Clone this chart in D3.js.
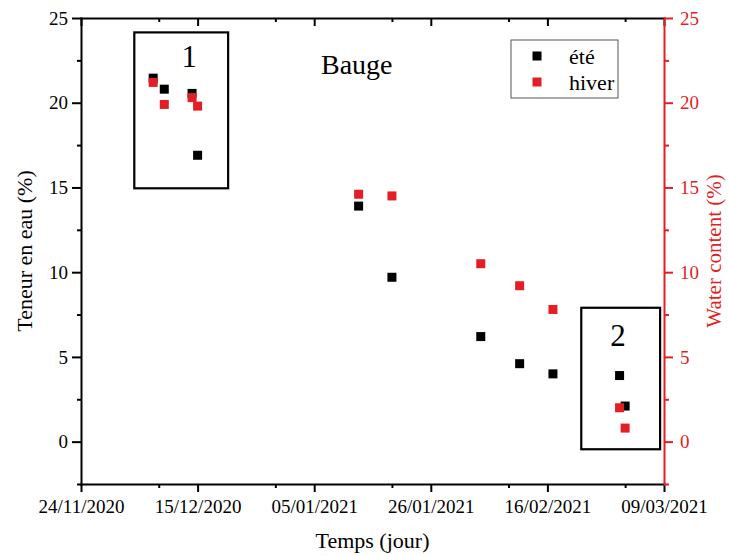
<!DOCTYPE html>
<html>
<head>
<meta charset="utf-8">
<script src="https://cdn.jsdelivr.net/npm/d3@7"></script>
<style>
  body { margin: 0; background: #fff; }
  svg text { font-family: "Times New Roman", "Liberation Serif", "DejaVu Serif", serif; }
</style>
</head>
<body>
<div id="chart"></div>
<script>
// data
const dates = ["2020-12-07", "2020-12-09", "2020-12-14", "2020-12-15", "2021-01-13", "2021-01-19",
               "2021-02-04", "2021-02-11", "2021-02-17", "2021-03-01", "2021-03-02"];
const ete   = [21.45, 20.8, 20.55, 16.9, 13.9, 9.7, 6.2, 4.6, 4.0, 3.9, 2.1];
const hiver = [21.2, 19.9, 20.3, 19.8, 14.6, 14.5, 10.5, 9.2, 7.8, 2.0, 0.8];

const xTicks = ["2020-11-24", "2020-12-15", "2021-01-05", "2021-01-26", "2021-02-16", "2021-03-09"];
const xMinor = ["2020-12-08", "2020-12-29", "2021-01-19", "2021-02-09", "2021-03-02"];
const yTicks = [0, 5, 10, 15, 20, 25];
const yMinor = [-2.5, 2.5, 7.5, 12.5, 17.5, 22.5];

// frames round groups 1 and 2:
// [start day, end day, top value, bottom value, label, label day, label value] (days after 24/11/2020)
const boxes = [
  [9.6, 26.5, 24.15, 14.95, "1", 19.5, 22.1],
  [90.1, 104.3, 7.9, -0.45, "2", 96.7, 5.65]
];

const width = 729, height = 556,
      margin = ({ top: 18, right: 65, bottom: 72, left: 81 });
const red = "#e31e25";
const serif = "'Times New Roman', 'Liberation Serif', 'DejaVu Serif', serif";
const parse = d3.utcParse("%Y-%m-%d");
const fmt = d3.utcFormat("%d/%m/%Y");
const t0 = parse(xTicks[0]);
const day = n => new Date(t0.getTime() + n * 864e5);

const svg = d3.select("#chart")
  .append("svg")
  .attr("width", width)
  .attr("height", height)
  .attr("font-family", serif);

svg.append("rect").attr("width", width).attr("height", height).attr("fill", "#fff");

const x = d3.scaleUtc()
  .domain([t0, parse(xTicks[xTicks.length - 1])])
  .range([margin.left, width - margin.right]);

const y = d3.scaleLinear()
  .domain([-2.5, 25])
  .range([height - margin.bottom, margin.top]);

function style(g, color) {
  g.attr("font-family", serif);
  g.selectAll("path, line").attr("stroke", color).attr("stroke-width", 2);
  g.select(".domain").attr("stroke-linecap", "square");
  g.selectAll("text").attr("fill", color).attr("font-size", 19);
}

// bottom axis
svg.append("g")
  .attr("transform", `translate(0,${y.range()[0]})`)
  .call(d3.axisBottom(x).tickValues(xTicks.map(parse)).tickFormat(fmt).tickSize(8).tickSizeOuter(0).tickPadding(8))
  .call(g => style(g, "#000"));
svg.append("g")
  .attr("transform", `translate(0,${y.range()[0]})`)
  .call(d3.axisBottom(x).tickValues(xMinor.map(parse)).tickFormat("").tickSize(4))
  .call(g => g.select(".domain").remove())
  .call(g => style(g, "#000"));

// top axis, ticks pointing in
svg.append("g")
  .attr("transform", `translate(0,${margin.top})`)
  .call(d3.axisTop(x).tickValues(xTicks.map(parse)).tickFormat("").tickSize(-8).tickSizeOuter(0))
  .call(g => style(g, "#000"));
svg.append("g")
  .attr("transform", `translate(0,${margin.top})`)
  .call(d3.axisTop(x).tickValues(xMinor.map(parse)).tickFormat("").tickSize(-4))
  .call(g => g.select(".domain").remove())
  .call(g => style(g, "#000"));

// left axis
svg.append("g")
  .attr("transform", `translate(${margin.left},0)`)
  .call(d3.axisLeft(y).tickValues(yTicks).tickSize(9).tickSizeOuter(0).tickPadding(4))
  .call(g => style(g, "#000"));
svg.append("g")
  .attr("transform", `translate(${margin.left},0)`)
  .call(d3.axisLeft(y).tickValues(yMinor).tickFormat("").tickSize(4))
  .call(g => g.select(".domain").remove())
  .call(g => style(g, "#000"));

// right axis (red)
svg.append("g")
  .attr("transform", `translate(${width - margin.right},0)`)
  .call(d3.axisRight(y).tickValues(yTicks).tickSize(9).tickSizeOuter(0).tickPadding(7))
  .call(g => style(g, red));
svg.append("g")
  .attr("transform", `translate(${width - margin.right},0)`)
  .call(d3.axisRight(y).tickValues(yMinor).tickFormat("").tickSize(5))
  .call(g => g.select(".domain").remove())
  .call(g => style(g, red));

// axis titles
svg.append("text")
  .attr("transform", `translate(32,${(y.range()[0] + y.range()[1]) / 2}) rotate(-90)`)
  .attr("text-anchor", "middle")
  .attr("font-size", 22)
  .text("Teneur en eau (%)");

svg.append("text")
  .attr("transform", `translate(721,${(y.range()[0] + y.range()[1]) / 2}) rotate(-90)`)
  .attr("text-anchor", "middle")
  .attr("font-size", 21)
  .attr("fill", red)
  .text("Water content (%)");

svg.append("text")
  .attr("x", (x.range()[0] + x.range()[1]) / 2)
  .attr("y", 548)
  .attr("text-anchor", "middle")
  .attr("font-size", 22)
  .text("Temps (jour)");

svg.append("text")
  .attr("x", 321)
  .attr("y", 74)
  .attr("font-size", 28)
  .text("Bauge");

// frames round groups 1 and 2
const box = svg.append("g")
  .selectAll("g")
  .data(boxes)
  .join("g");
box.append("rect")
  .attr("x", d => x(day(d[0])))
  .attr("y", d => y(d[2]))
  .attr("width", d => x(day(d[1])) - x(day(d[0])))
  .attr("height", d => y(d[3]) - y(d[2]))
  .attr("fill", "none")
  .attr("stroke", "#000")
  .attr("stroke-width", 2.2);
box.append("text")
  .attr("x", d => x(day(d[5])))
  .attr("y", d => y(d[6]))
  .attr("text-anchor", "middle")
  .attr("font-size", 31)
  .text(d => d[4]);

// points: été first, hiver drawn over it
const s = 9;
svg.append("g")
  .attr("fill", "#000")
  .selectAll("rect")
  .data(dates.map((d, i) => [parse(d), ete[i]]))
  .join("rect")
  .attr("x", d => x(d[0]) - s / 2)
  .attr("y", d => y(d[1]) - s / 2)
  .attr("width", s)
  .attr("height", s);

svg.append("g")
  .attr("fill", red)
  .selectAll("rect")
  .data(dates.map((d, i) => [parse(d), hiver[i]]))
  .join("rect")
  .attr("x", d => x(d[0]) - s / 2)
  .attr("y", d => y(d[1]) - s / 2)
  .attr("width", s)
  .attr("height", s);

// legend
const legend = svg.append("g").attr("transform", "translate(511,40)");
legend.append("rect")
  .attr("width", 107).attr("height", 58)
  .attr("fill", "#fff").attr("stroke", "#555").attr("stroke-width", 1);
[["été", "#000"], ["hiver", red]].forEach(([name, color], i) => {
  legend.append("rect")
    .attr("x", 26 - s / 2).attr("y", 16 + i * 26 - s / 2)
    .attr("width", s).attr("height", s)
    .attr("fill", color);
  legend.append("text")
    .attr("x", 58).attr("y", 24 + i * 26)
    .attr("font-size", 22)
    .text(name);
});
</script>
</body>
</html>
